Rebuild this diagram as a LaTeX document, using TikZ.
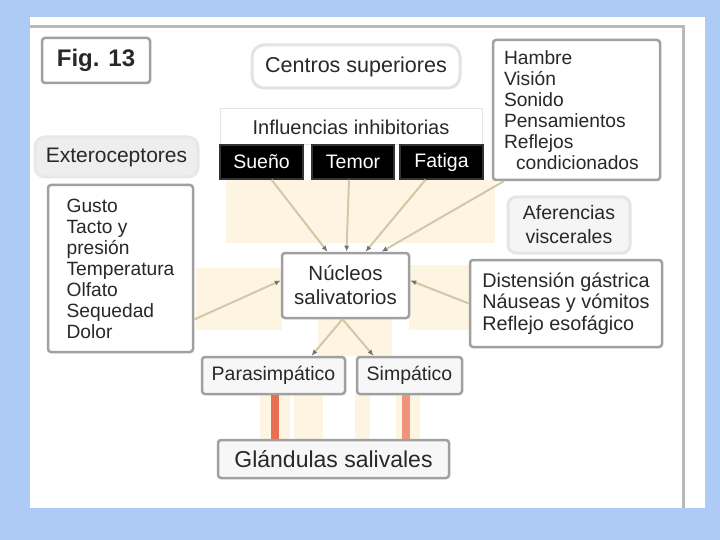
\documentclass[tikz,border=0pt]{standalone}
\usepackage{fontspec}
\setmainfont{Liberation Sans}
\usetikzlibrary{calc,arrows.meta}
\definecolor{bgblue}{RGB}{174,203,246}
\definecolor{cream}{RGB}{253,245,226}
\definecolor{tanline}{RGB}{210,200,168}
\definecolor{redbar}{RGB}{232,112,80}
\definecolor{framegray}{RGB}{160,160,160}
\definecolor{txt}{RGB}{40,40,40}
\tikzset{
  box/.style={draw=framegray, line width=2.5pt, rounded corners=3pt, fill=white, text=txt,
    font=\fontsize{19.5}{21}\selectfont, inner sep=0pt, align=center},
  listbox/.style={box, align=left, inner xsep=11pt},
  softbox/.style={draw=gray!22, line width=3pt, rounded corners=10pt, fill=white, text=txt,
    font=\fontsize{19.5}{21}\selectfont, inner sep=0pt, align=center},
  blackbox/.style={draw=black!80, line width=1.5pt, fill=black, text=white,
    font=\fontsize{19.5}{21}\selectfont, inner sep=0pt},
  conn/.style={draw=tanline, line width=2pt, -{Latex[length=6pt,width=5pt,color=black!55]}},
}
\begin{document}
\begin{tikzpicture}[x=1pt,y=-1pt]
\useasboundingbox (0,0) rectangle (720,540);
\fill[bgblue] (0,0) rectangle (720,540);
\fill[white] (30,17) rectangle (705,508);
\draw[gray!55, line width=3pt] (30,27) -- (683,27) -- (683,508);
% cream glow regions
\fill[cream] (226,180) rectangle (495,243);
\fill[cream] (196,268) rectangle (282,330);
\fill[cream] (409,265) rectangle (470,330);
\fill[cream] (318,318) rectangle (392,356);
\fill[cream] (260,394) rectangle (290,440);
\fill[cream] (294,394) rectangle (323,440);
\fill[cream] (355,394) rectangle (370,440);
\fill[cream] (396,394) rectangle (420,440);

% nodes
\node[box, minimum width=108pt, minimum height=45pt, font=\fontsize{24}{26}\selectfont\bfseries] (fig) at (96,60.5) {Fig. 13};
\node[softbox, minimum width=208pt, minimum height=43pt, rounded corners=12pt, font=\fontsize{21.5}{24}\selectfont] (centros) at (356,66.5) {Centros superiores};
\node[draw=gray!20, line width=1pt, fill=white, text=txt, font=\fontsize{20}{22}\selectfont, minimum width=262pt, minimum height=36pt] (infl) at (351,127) {Influencias inhibitorias};
\node[blackbox, minimum width=83pt, minimum height=34pt] (sueno) at (261.5,162) {Sueño};
\node[blackbox, minimum width=82pt, minimum height=34pt] (temor) at (353,162) {Temor};
\node[blackbox, minimum width=83pt, minimum height=34pt] (fatiga) at (441.5,162) {Fatiga};
\node[listbox, text width=145pt, minimum height=140pt, font=\fontsize{19.2}{21}\selectfont] (hambre) at (576.5,110)
  {Hambre\\Visión\\Sonido\\Pensamientos\\Reflejos\\\hspace*{12pt}condicionados};
\node[softbox, fill=gray!13, draw=gray!18, minimum width=163pt, minimum height=40pt, font=\fontsize{21}{23}\selectfont] (extero) at (116.5,157) {Exteroceptores};
\node[box, align=left, minimum width=145pt, minimum height=167pt, font=\fontsize{19.2}{21}\selectfont] (gusto) at (120.5,268.5)
  {Gusto\\Tacto y\\presión\\Temperatura\\Olfato\\Sequedad\\Dolor};
\node[softbox, fill=gray!8, draw=gray!20, rounded corners=8pt, minimum width=122pt, minimum height=56pt, font=\fontsize{19.5}{24}\selectfont] (afer) at (569,225) {Aferencias\\viscerales};
\node[box, minimum width=127pt, minimum height=65pt, font=\fontsize{20.5}{24}\selectfont] (nuc) at (345.5,285.5) {Núcleos\\salivatorios};
\node[box, align=left, minimum width=192pt, minimum height=87pt, font=\fontsize{19.8}{21.5}\selectfont] (dist) at (566,303.5)
  {Distensión gástrica\\Náuseas y vómitos\\Reflejo esofágico};
\node[box, fill=gray!6, minimum width=143pt, minimum height=37pt] (para) at (273.5,375.5) {Parasimpático};
\node[box, fill=gray!6, minimum width=105pt, minimum height=37pt] (simp) at (409.5,375.5) {Simpático};
\node[box, fill=gray!6, minimum width=231pt, minimum height=38pt, font=\fontsize{23}{25}\selectfont] (gland) at (333.5,459) {Glándulas salivales};

% connectors
\draw[conn] ($(sueno.south)+(10,0)$) -- ($(nuc.north)+(-18,0)$);
\draw[conn] ($(temor.south)+(-4,0)$) -- ($(nuc.north)+(1,0)$);
\draw[conn] ($(fatiga.south)+(-16,0)$) -- ($(nuc.north)+(20,0)$);
\draw[conn] ($(hambre.south west)+(12,0)$) -- ($(nuc.north)+(36,0)$);
\draw[conn] ($(gusto.east)+(0,51)$) -- ($(nuc.west)+(0,-5)$);
\draw[conn] (dist.west) -- ($(nuc.east)+(0,-5)$);
\draw[conn] ($(nuc.south)+(-3,0)$) -- ($(para.north)+(38,0)$);
\draw[conn] ($(nuc.south)+(-3,0)$) -- ($(simp.north)+(-36,0)$);

% red bars
\coordinate (pb) at ($(para.south)+(1.5,0)$);
\coordinate (sb) at ($(simp.south)+(-3.5,0)$);
\draw[redbar, line width=8pt] (pb) -- (pb |- gland.north);
\draw[redbar!75, line width=8pt] (sb) -- (sb |- gland.north);
\end{tikzpicture}
\end{document}
